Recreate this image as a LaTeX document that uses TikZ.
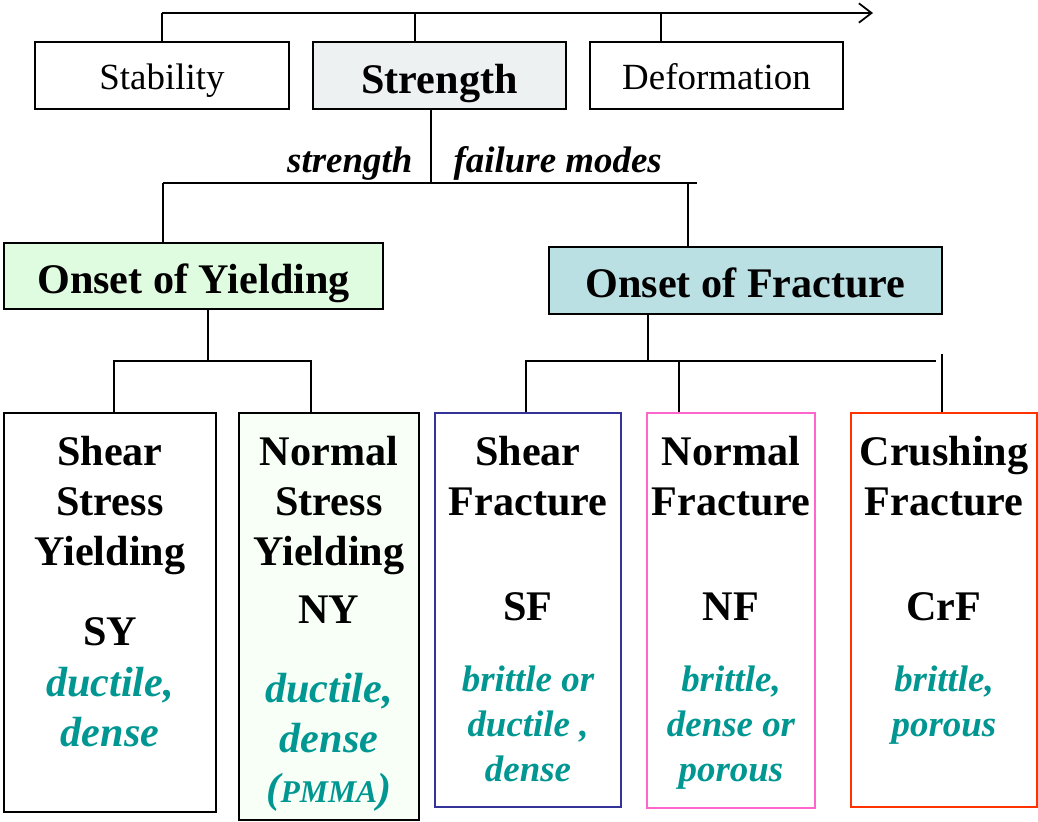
\documentclass[tikz,border=0pt]{standalone}
\usepackage{fontspec}
\setmainfont{Liberation Serif}
\usetikzlibrary{calc,arrows.meta}
\definecolor{strengthfill}{RGB}{238,241,241}
\definecolor{yieldfill}{RGB}{224,252,224}
\definecolor{fracfill}{RGB}{187,224,227}
\definecolor{nyfill}{RGB}{247,255,247}
\definecolor{sfline}{RGB}{51,51,153}
\definecolor{nfline}{RGB}{255,102,204}
\definecolor{crfline}{RGB}{255,51,0}
\definecolor{propteal}{RGB}{0,150,145}
\begin{document}
\begin{tikzpicture}[x=0.1mm,y=-0.1mm,
    box/.style={draw,line width=0.6pt,inner sep=0pt,fill=white,text depth=0pt},
    modebox/.style={draw,line width=0.8pt,inner sep=0pt,fill=white},
    head/.style={font=\fontsize{12}{14.2}\selectfont\bfseries,align=center,anchor=base,inner sep=0pt},
    prop/.style={font=\fontsize{12}{14.2}\selectfont\bfseries\itshape,text=propteal,align=center,anchor=base,inner sep=0pt},
    propsmall/.style={prop,font=\fontsize{10.5}{12.8}\selectfont\bfseries\itshape},
    link/.style={line width=0.5pt}]
    \useasboundingbox (0,0) rectangle (1038,822);
    % top row
    \node[box,minimum width=25.4mm,minimum height=6.7mm,text height=7.7pt,font=\fontsize{10.5}{12}\selectfont] (stab) at (162,75.5) {Stability};
    \node[box,fill=strengthfill,minimum width=25.3mm,minimum height=6.7mm,text height=10pt,font=\fontsize{12}{14}\selectfont\bfseries] (strn) at (439.5,75.5) {Strength};
    \node[box,minimum width=25.3mm,minimum height=6.7mm,text height=7.7pt,font=\fontsize{10.5}{12}\selectfont] (defo) at (716.5,75.5) {Deformation};
    \coordinate (a1) at (162,13);
    \coordinate (a2) at (873,13);
    \coordinate (a3) at (415,13);
    \coordinate (a4) at (661,13);
    \draw[link,-{Straight Barb[length=3.6pt,width=5.5pt]}] (a1) -- (a2);
    \draw[link] (a1) -- (stab.north);
    \draw[link] (a3) -- (a3 |- strn.north);
    \draw[link] (a4) -- (a4 |- defo.north);
    % failure modes
    \coordinate (s1) at (431,183);
    \coordinate (h1) at (163,183);
    \coordinate (h2) at (697,183);
    \coordinate (h3) at (688,183);
    \draw[link] (s1 |- strn.south) -- (s1);
    \draw[link] (h1) -- (h2);
    \node[font=\fontsize{10.5}{12}\selectfont\bfseries\itshape,anchor=base east,inner sep=0pt] (lstr) at (413,172) {strength};
    \node[font=\fontsize{10.5}{12}\selectfont\bfseries\itshape,anchor=base west,inner sep=0pt] (lmod) at (453,172) {failure modes};
    \node[box,fill=yieldfill,minimum width=37.9mm,minimum height=6.6mm,text height=9.8pt,font=\fontsize{12}{14}\selectfont\bfseries] (yld) at (193.5,276) {Onset of Yielding};
    \node[box,fill=fracfill,minimum width=39.3mm,minimum height=6.7mm,text height=9.8pt,font=\fontsize{12}{14}\selectfont\bfseries] (frc) at (745.5,280.5) {Onset of Fracture};
    \draw[link] (h1) -- (h1 |- yld.north);
    \draw[link] (h3) -- (h3 |- frc.north);
    % mode boxes
    \node[modebox,minimum width=21.2mm,minimum height=39.9mm] (sy) at (110,612.5) {};
    \node[modebox,fill=nyfill,minimum width=18mm,minimum height=40.7mm] (ny) at (329,616.5) {};
    \node[modebox,draw=sfline,minimum width=18.6mm,minimum height=39.4mm] (sf) at (528,610) {};
    \node[modebox,draw=nfline,minimum width=16.8mm,minimum height=39.5mm] (nf) at (731,610.5) {};
    \node[modebox,draw=crfline,minimum width=18.6mm,minimum height=39.4mm] (crf) at (944,610) {};
    \coordinate (y1) at (208,361);
    \coordinate (y2) at (114,361);
    \coordinate (y3) at (311,361);
    \draw[link] (y1 |- yld.south) -- (y1);
    \draw[link] (y2 |- sy.north) -- (y2) -- (y3) -- (y3 |- ny.north);
    \coordinate (f1) at (648,361);
    \coordinate (f2) at (526,361);
    \coordinate (f3) at (936,361);
    \coordinate (f4) at (679,361);
    \coordinate (f5) at (942,354);
    \draw[link] (f1 |- frc.south) -- (f1);
    \draw[link] (f2 |- sf.north) -- (f2) -- (f3);
    \draw[link] (f4) -- (f4 |- nf.north);
    \draw[link] (f5) -- (f5 |- crf.north);
    % texts (base = last line)
    \node[head] (sy-t) at ($(sy.north)+(0,154)$) {Shear\\Stress\\Yielding};
    \node[head] (sy-a) at ($(sy.north)+(0,234)$) {SY};
    \node[prop] (sy-p) at ($(sy.north)+(0,335)$) {ductile,\\dense};
    \node[head] (ny-t) at ($(ny.north)+(0,154)$) {Normal\\Stress\\Yielding};
    \node[head] (ny-a) at ($(ny.north)+(0,212)$) {NY};
    \node[prop] (ny-p) at ($(ny.north)+(0,391)$) {ductile,\\dense\\({\fontsize{9}{10}\selectfont PMMA})};
    \node[head] (sf-t) at ($(sf.north)+(0,104)$) {Shear\\Fracture};
    \node[head] (sf-a) at ($(sf.north)+(0,209)$) {SF};
    \node[propsmall] (sf-p) at ($(sf.north)+(0,370)$) {brittle or\\ductile ,\\dense};
    \node[head] (nf-t) at ($(nf.north)+(0,104)$) {Normal\\Fracture};
    \node[head] (nf-a) at ($(nf.north)+(0,209)$) {NF};
    \node[propsmall] (nf-p) at ($(nf.north)+(0,370)$) {brittle,\\dense or\\porous};
    \node[head] (crf-t) at ($(crf.north)+(0,104)$) {Crushing\\Fracture};
    \node[head] (crf-a) at ($(crf.north)+(0,209)$) {CrF};
    \node[propsmall] (crf-p) at ($(crf.north)+(0,325)$) {brittle,\\porous};
\end{tikzpicture}
\end{document}
